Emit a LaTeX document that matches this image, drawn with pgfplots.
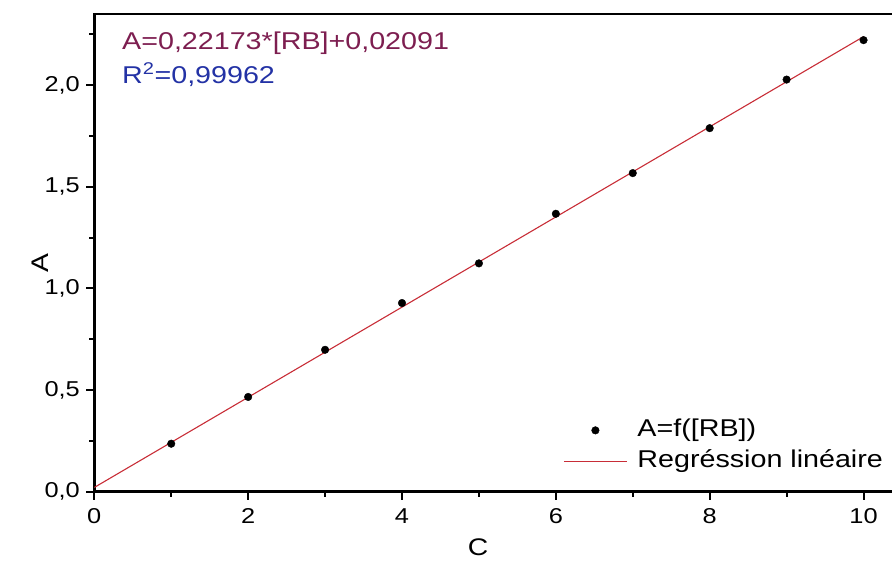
\documentclass[border=0pt]{standalone}
\usepackage{fontspec}
\setmainfont{Liberation Sans}[FakeStretch=1.18]
\usepackage{pgfplots}
\pgfplotsset{compat=1.18}
\definecolor{eqcol}{RGB}{125,30,80}
\definecolor{rcol}{RGB}{35,50,165}
\definecolor{regcol}{RGB}{200,45,55}
\begin{document}
\begin{tikzpicture}
\useasboundingbox (0,0) rectangle (892pt,562pt);
\begin{axis}[
  at={(94.3pt,70.3pt)}, anchor=south west,
  scale only axis, width=797.7pt, height=478.4pt,
  xmin=0, xmax=10.37, ymin=0, ymax=2.353,
  axis x line*=bottom, axis y line*=left,
  axis line style={-, line width=2.5pt, black},
  xtick={0,2,4,6,8,10}, ytick={0,0.5,1.0,1.5,2.0},
  minor xtick={1,3,5,7,9}, minor ytick={0.25,0.75,1.25,1.75,2.25},
  tick align=outside, major tick length=8pt, minor tick length=5pt,
  every tick/.style={black, line width=2pt},
  /pgf/number format/assume math mode=true,
  ticklabel style={font=\fontsize{21.5}{25}\selectfont},
  yticklabel style={/pgf/number format/.cd, fixed, fixed zerofill, precision=1, use comma, /tikz/.cd, xshift=-3pt},
  xticklabel style={/pgf/number format/.cd, fixed, precision=0, /tikz/.cd, yshift=-5pt},
  xlabel={C}, ylabel={A},
  label style={font=\fontsize{24}{28}\selectfont},
  xlabel style={at={(axis description cs:0.481,-0.117)}, anchor=center},
  ylabel style={at={(axis description cs:-0.068,0.478)}, anchor=center, rotate=0},
  legend style={at={(axis description cs:0.584,0.16)}, anchor=north west, draw=none, fill=none,
    font=\fontsize{24.3}{28}\selectfont, row sep=5pt,
    nodes={text height=17pt, text depth=5pt, inner sep=2pt},
    /tikz/every odd column/.append style={column sep=8pt}},
  legend cell align=left,
  legend image code/.code={\draw[mark repeat=2,mark phase=2,#1] plot coordinates {(0pt,0pt) (31.5pt,0pt) (63pt,0pt)};},
  reverse legend,
]
\addplot[regcol, line width=1.1pt]
  coordinates {(0,0.02091) (10,2.23821)};
\addlegendentry{Regréssion linéaire}
\addplot[only marks, mark=*, mark size=3.8pt, black]
  coordinates {(1,0.236) (2,0.466) (3,0.698) (4,0.928) (5,1.123) (6,1.367) (7,1.567) (8,1.788) (9,2.027) (10,2.221)};
\addlegendentry{A=f([RB])}
\draw[line width=2.5pt, black] (rel axis cs:0,1) -- (rel axis cs:1,1);
\node[anchor=west, text=eqcol, font=\fontsize{24.3}{28}\selectfont, inner sep=0pt] at (axis cs:0.36,2.207) {A=0,22173*[RB]+0,02091};
\node[anchor=west, text=rcol, font=\fontsize{24.3}{28}\selectfont, inner sep=0pt] at (axis cs:0.36,2.05) {R\textsuperscript{2}=0,99962};
\end{axis}
\end{tikzpicture}
\end{document}
